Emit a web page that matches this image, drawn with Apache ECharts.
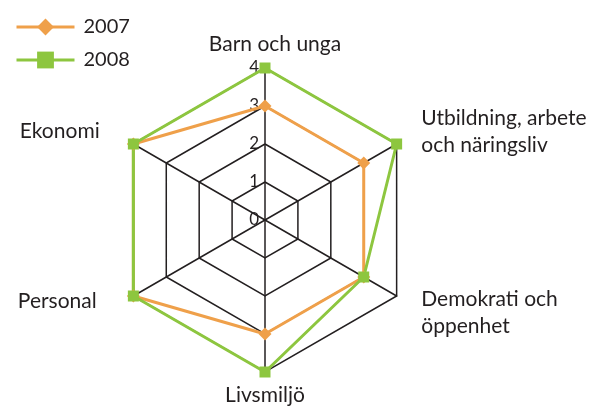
<!DOCTYPE html>
<html>
<head>
<meta charset="utf-8">
<script src="https://cdn.jsdelivr.net/npm/echarts@6/dist/echarts.min.js"></script>
<style>
  html, body { margin: 0; padding: 0; background: #fff; }
  #main { width: 600px; height: 408px; }
</style>
</head>
<body>
<div id="main"></div>
<script>
// indikatorer, moturs från toppen (ECharts ritar moturs)
const indicatorNames = ['Barn och unga', 'Ekonomi', 'Personal', 'Livsmiljö', 'Demokrati och\nöppenhet', 'Utbildning, arbete\noch näringsliv'];
const seriesNames = ['2007', '2008'];
const values2007 = [3, 4, 4, 3, 3, 3];
const values2008 = [4, 4, 4, 4, 3, 4];
const maxValue = 4;

const orange = '#EFA04A';
const green = '#8DC63F';
const ink = '#231F20';
const font = 'Lato';

let chartDom = document.getElementById('main');
let myChart = echarts.init(chartDom);

let indicators = indicatorNames.map(function (n, i) {
  let ind = {name: n, min: 0, max: maxValue};
  // bara översta axeln har siffror
  if (i === 0) ind.axisLabel = {show: true};
  return ind;
});

// namnplacering: rich-stilar per axel (sp = tom rad som flyttar texten)
const base = {fontSize: 21, fontFamily: font, color: ink, lineHeight: 27};
function st(extra) { return Object.assign({}, base, extra); }
const nameRich = {
  top: st({padding: [0, 0, 0, 20]}),
  right: st({padding: [0, 0, 0, 16]}),
  leftUp: st({padding: [0, 25, 0, 0]}),
  leftDown: st({padding: [0, 28, 0, 0]}),
  plain: st({}),
  sp7: st({lineHeight: 14}),
  sp8: st({lineHeight: 16}),
  sp12: st({lineHeight: 24})
};
function nameFormatter(value) {
  const idx = indicatorNames.indexOf(value);
  const lines = value.split('\n');
  if (idx === 0) return '{top|' + value + '}';
  if (idx === 1) return '{leftUp|' + value + '}\n{sp8| }';
  if (idx === 2) return '{leftDown|' + value + '}';
  if (idx === 3) return '{plain|' + value + '}';
  if (idx === 4) return '{sp12| }\n' + lines.map(function (l) { return '{right|' + l + '}'; }).join('\n');
  return lines.map(function (l) { return '{right|' + l + '}'; }).join('\n') + '\n{sp7| }';
}

let option = {
  animation: false,
  textStyle: {fontFamily: font},
  legend: {
    orient: 'vertical',
    left: 10,
    top: 12,
    itemWidth: 58,
    itemHeight: 21,
    itemGap: 13,
    lineStyle: {width: 3},
    textStyle: {fontSize: 20, color: ink, fontFamily: font, padding: [0, 0, 0, 4]},
    data: seriesNames
  },
  // dold grid bara för legendens linjeikoner
  grid: {left: -100, top: -100, width: 10, height: 10, show: false},
  xAxis: {type: 'category', show: false, data: []},
  yAxis: {type: 'value', show: false},
  radar: {
    center: [265, 220],
    radius: 152,
    startAngle: 90,
    splitNumber: 4,
    shape: 'polygon',
    nameGap: 10,
    axisName: {color: ink, fontSize: 21, fontFamily: font, lineHeight: 27, formatter: nameFormatter, rich: nameRich},
    axisLine: {lineStyle: {color: ink, width: 1.5}},
    splitLine: {lineStyle: {color: ink, width: 1.5}},
    splitArea: {show: false},
    axisTick: {show: false},
    axisLabel: {show: false, color: ink, fontSize: 17, fontFamily: font, margin: 6},
    indicator: indicators
  },
  series: [
    {
      name: '2007', type: 'line', data: [],
      symbol: 'diamond',
      itemStyle: {color: orange}, lineStyle: {color: orange, width: 3}
    },
    {
      name: '2008', type: 'line', data: [],
      symbol: 'rect',
      itemStyle: {color: green}, lineStyle: {color: green, width: 3}
    },
    {
      name: '2007', type: 'radar',
      symbol: 'diamond', symbolSize: 13,
      itemStyle: {color: orange},
      lineStyle: {color: orange, width: 3},
      data: [{value: values2007, name: '2007'}]
    },
    {
      name: '2008', type: 'radar',
      symbol: 'rect', symbolSize: 11,
      itemStyle: {color: green},
      lineStyle: {color: green, width: 3},
      data: [{value: values2008, name: '2008'}]
    }
  ]
};
option && myChart.setOption(option);
</script>
</body>
</html>
